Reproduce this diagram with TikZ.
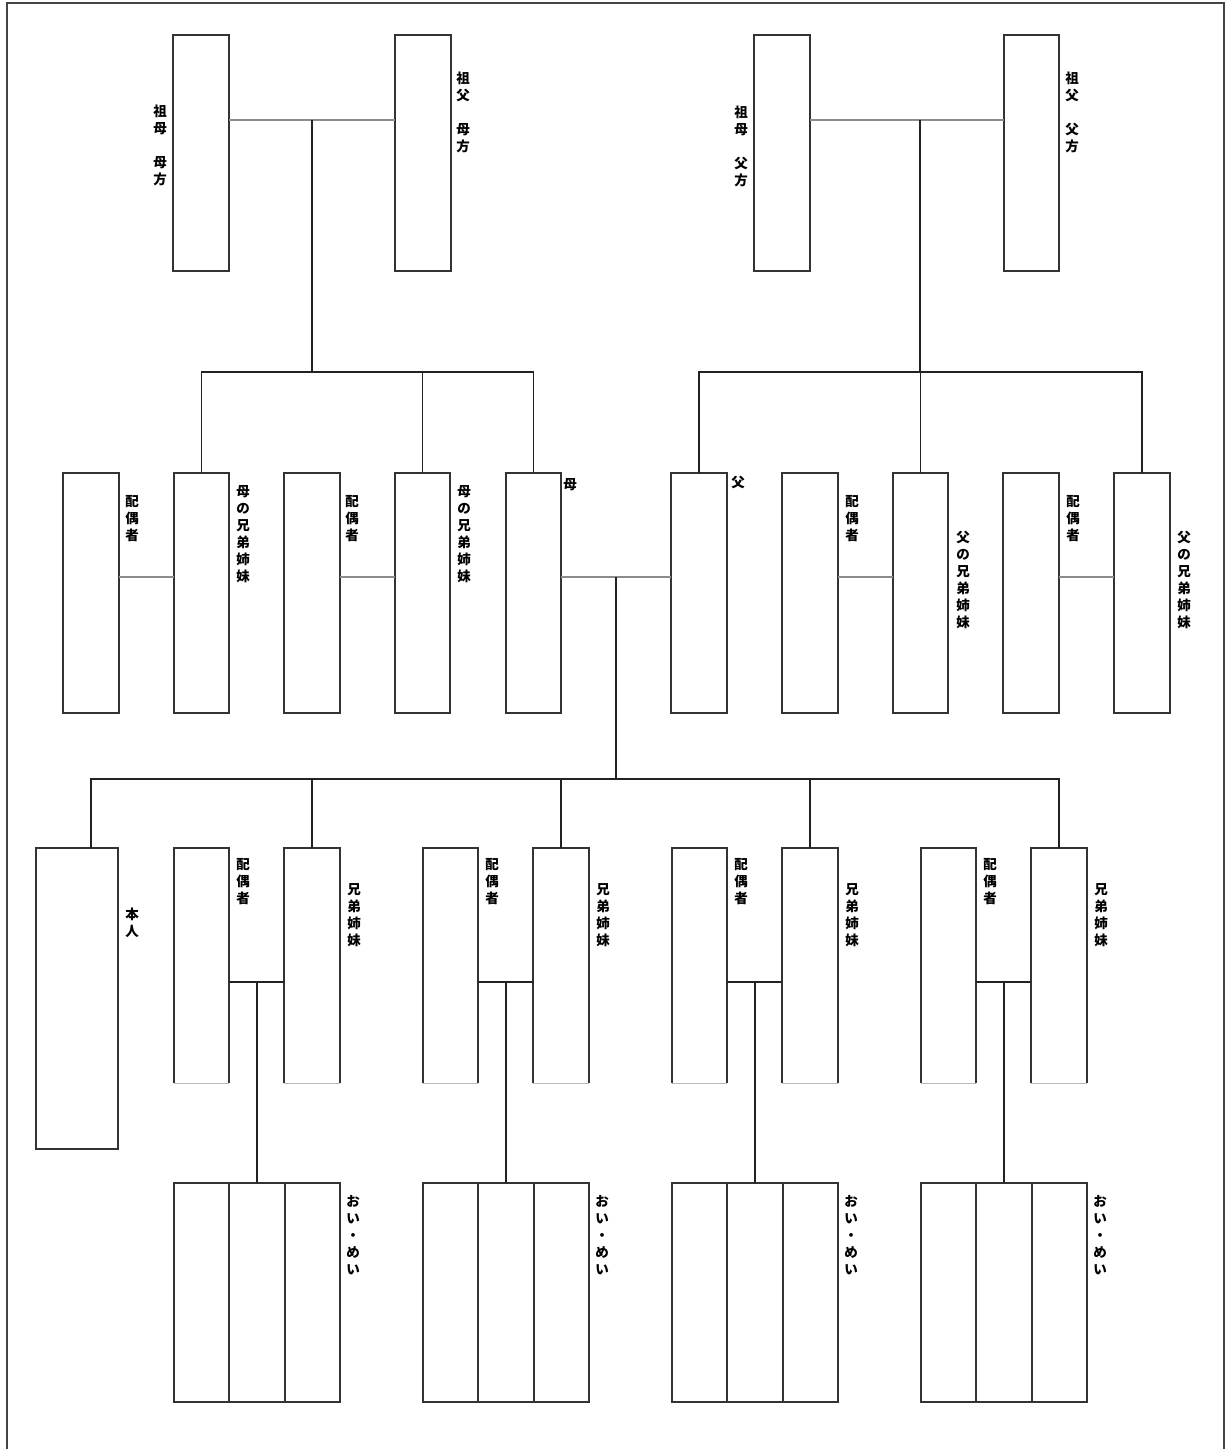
\documentclass[tikz,border=0pt]{standalone}
\usepackage{fontspec}
\newfontfamily\cjk{Noto Sans CJK JP}
\definecolor{boxc}{HTML}{333333}
\definecolor{treec}{HTML}{222222}
\definecolor{pairc}{HTML}{8C8C8C}
\definecolor{framec}{HTML}{444444}
\definecolor{faintc}{HTML}{BBBBBB}
\newcommand\Bx[6][box]{\node[#1,minimum width={(#4)-(#2)},minimum height={(#5)-(#3)}] (#6) at ({((#2)+(#4))/2},{((#3)+(#5))/2}) {};}
\begin{document}
\begin{tikzpicture}[x=1pt,y=-1pt,
  box/.style={draw=boxc,line width=1.4pt,inner sep=0,outer sep=0},
  obox/.style={inner sep=0,outer sep=0},
  tree/.style={draw=treec,line width=1.4pt},
  pair/.style={draw=pairc,line width=1.6pt},
  edge/.style={draw=boxc,line width=1.4pt},
  faint/.style={draw=faintc,line width=1pt},
  frame/.style={draw=framec,line width=2.2pt},
  lbl/.style={font=\cjk\bfseries\fontsize{13.5}{17}\selectfont,align=center,anchor=north,inner sep=0,text=black}]

\useasboundingbox (0,0) rectangle (1227,1449);
\draw[frame] (7,1449) -- (7,3) -- (1224,3) -- (1224,1449);

% ---- grandparents
\Bx{173}{35}{229}{271}{gmM}
\Bx{395}{35}{451}{271}{gfM}
\Bx{754}{35}{810}{271}{gmF}
\Bx{1004}{35}{1059}{271}{gfF}

% ---- parents' generation
\Bx{63}{473}{119}{713}{spA}
\Bx{174}{473}{229}{713}{sibA}
\Bx{284}{473}{340}{713}{spB}
\Bx{395}{473}{450}{713}{sibB}
\Bx{506}{473}{561}{713}{mother}
\Bx{671}{473}{727}{713}{father}
\Bx{782}{473}{838}{713}{spC}
\Bx{893}{473}{948}{713}{sibC}
\Bx{1003}{473}{1059}{713}{spD}
\Bx{1114}{473}{1170}{713}{sibD}

% ---- own generation
\Bx{36}{848}{118}{1149}{self}
\foreach \k in {0,1,2,3}{
  \Bx[obox]{174+249*\k}{848}{229+249*\k}{1083}{sp\k}
  \Bx[obox]{284+249*\k}{848}{340+249*\k}{1083}{sb\k}
  \draw[edge] (sp\k.south west) -- (sp\k.north west) -- (sp\k.north east) -- (sp\k.south east);
  \draw[faint] (sp\k.south west) -- (sp\k.south east);
  \draw[edge] (sb\k.south west) -- (sb\k.north west) -- (sb\k.north east) -- (sb\k.south east);
  \draw[faint] (sb\k.south west) -- (sb\k.south east);
  % nephews / nieces
  \Bx{174+249*\k}{1183}{229+249*\k}{1402}{na\k}
  \Bx{229+249*\k}{1183}{285+249*\k}{1402}{nb\k}
  \Bx{285+249*\k}{1183}{340+249*\k}{1402}{nc\k}
}

% ---- connectors
\coordinate (mM) at (312,120);
\coordinate (mF) at (920,120);
\coordinate (barL) at (312,372);
\coordinate (barR) at (920,372);
\coordinate (mP) at (616,577);
\coordinate (barC) at (616,779);
\coordinate (dS) at (91,848);

\draw[pair] (gmM.east |- mM) -- (gfM.west |- mM);
\draw[pair] (gmF.east |- mF) -- (gfF.west |- mF);
\draw[tree] (mM) -- (barL);
\draw[tree] (mF) -- (barR);
\draw[tree] (sibA.north) |- (barL);
\draw[tree] (sibB.north) |- (barL);
\draw[tree] (mother.north) |- (barL);
\draw[tree] (father.north) |- (barR);
\draw[tree] (sibC.north) |- (barR);
\draw[tree] (sibD.north) |- (barR);

\draw[pair] (spA.east |- mP) -- (sibA.west |- mP);
\draw[pair] (spB.east |- mP) -- (sibB.west |- mP);
\draw[pair] (mother.east |- mP) -- (father.west |- mP);
\draw[pair] (spC.east |- mP) -- (sibC.west |- mP);
\draw[pair] (spD.east |- mP) -- (sibD.west |- mP);

\draw[tree] (mP) -- (barC);
\draw[tree] (barC) -| (dS);
\foreach \k in {0,1,2,3}{
  \draw[tree] (sb\k.north) |- (barC);
  \coordinate (cp\k) at (257+249*\k,982);
  \draw[tree] (sp\k.east |- cp\k) -- (sb\k.west |- cp\k);
  \draw[tree] (cp\k) -- (nb\k.north);
}

% ---- labels
\node[lbl] (tgmM) at (160,105) {祖\\母\\\phantom{母}\\母\\方};
\node[lbl] (tgfM) at (463,72) {祖\\父\\\phantom{母}\\母\\方};
\node[lbl] (tgmF) at (741,106) {祖\\母\\\phantom{母}\\父\\方};
\node[lbl] (tgfF) at (1072,72) {祖\\父\\\phantom{母}\\父\\方};

\node[lbl] (tspA) at (132,495) {配\\偶\\者};
\node[lbl] (tsibA) at (243,485) {母\\の\\兄\\弟\\姉\\妹};
\node[lbl] (tspB) at (352,495) {配\\偶\\者};
\node[lbl] (tsibB) at (464,485) {母\\の\\兄\\弟\\姉\\妹};
\node[lbl] (tmother) at (570,478) {母};
\node[lbl] (tfather) at (738,476) {父};
\node[lbl] (tspC) at (852,495) {配\\偶\\者};
\node[lbl] (tsibC) at (963,531) {父\\の\\兄\\弟\\姉\\妹};
\node[lbl] (tspD) at (1073,495) {配\\偶\\者};
\node[lbl] (tsibD) at (1184,531) {父\\の\\兄\\弟\\姉\\妹};

\node[lbl] (tself) at (132,908) {本\\人};
\foreach \k in {0,1,2,3}{
  \node[lbl] (tsp\k) at (243+249*\k,858) {配\\偶\\者};
  \node[lbl] (tsb\k) at (354+249*\k,883) {兄\\弟\\姉\\妹};
  \node[lbl] (tn\k) at (353+249*\k,1195) {お\\い\\・\\め\\い};
}
\end{tikzpicture}
\end{document}
